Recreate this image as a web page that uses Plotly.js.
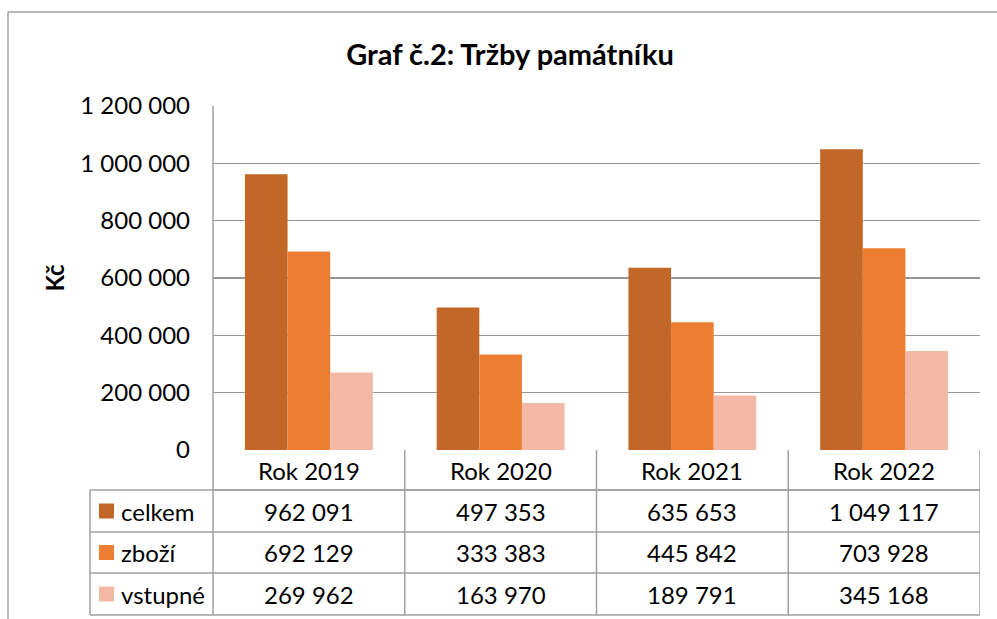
<!DOCTYPE html>
<html>
<head>
<meta charset="utf-8">
<script src="https://cdn.plot.ly/plotly-3.0.1.min.js"></script>
<style>html,body{margin:0;padding:0;background:#fff;}#chart{width:997px;height:619px;}</style>
</head>
<body>
<div id="chart"></div>
<script>
// ---- data ----
const categories = ["Rok 2019", "Rok 2020", "Rok 2021", "Rok 2022"];
const seriesNames = ["celkem", "zboží", "vstupné"];
const celkem  = [962091, 497353, 635653, 1049117];
const zbozi   = [692129, 333383, 445842, 703928];
const vstupne = [269962, 163970, 189791, 345168];
const yTicks  = [0, 200000, 400000, 600000, 800000, 1000000, 1200000];

const seriesValues = [celkem, zbozi, vstupne];
const colors = ["#C36728", "#ED7D31", "#F4B9A5"];

// ---- geometry (pixels) ----
const W = 997, H = 619;
const L = 213, R = 980, T = 106, B = 450;
const pw = R - L, ph = B - T;
const px = x => (x - L) / pw;
const py = y => (B - y) / ph;

const FONT = "Lato, 'Open Sans', sans-serif";
const gridColor = "#979797";
const lineColor = "#a0a0a0";
const TXT = 24;

function fmt(v) {
  return String(v).replace(/\B(?=(\d{3})+(?!\d))/g, " ");
}

const traces = seriesNames.map((name, i) => ({
  type: "bar",
  name: name,
  x: categories,
  y: seriesValues[i],
  marker: {color: colors[i], line: {width: 0}},
  hoverinfo: "x+y+name"
}));

// table rows (pixel bounds)
const headerTop = 450, headerBot = 490;
const rowBounds = [490, 532, 573, 615];
const tableLeft = 90;

const shapes = [];
const annotations = [];

// outer chart border
shapes.push({type: "line", xref: "paper", yref: "paper", x0: px(8), x1: px(8), y0: py(12), y1: py(H + 5), line: {color: lineColor, width: 1.5}});
shapes.push({type: "line", xref: "paper", yref: "paper", x0: px(8), x1: px(W + 5), y0: py(12), y1: py(12), line: {color: lineColor, width: 1.5}});

// horizontal table lines
shapes.push({type: "line", xref: "paper", yref: "paper", x0: px(L), x1: 1, y0: py(headerBot), y1: py(headerBot), line: {color: lineColor, width: 1.5}});
rowBounds.forEach((y) => {
  shapes.push({type: "line", xref: "paper", yref: "paper", x0: px(tableLeft), x1: 1, y0: py(y), y1: py(y), line: {color: lineColor, width: 1.5}});
});
// left column vertical + y axis line
shapes.push({type: "line", xref: "paper", yref: "paper", x0: px(tableLeft), x1: px(tableLeft), y0: py(rowBounds[0]), y1: py(rowBounds[3]), line: {color: lineColor, width: 1.5}});
shapes.push({type: "line", xref: "paper", yref: "paper", x0: 0, x1: 0, y0: 1, y1: py(rowBounds[3]), line: {color: lineColor, width: 1.5}});
// category dividers
for (let k = 0; k < categories.length; k++) {
  shapes.push({type: "line", xref: "x", yref: "paper", x0: k + 0.5, x1: k + 0.5, y0: 0, y1: py(rowBounds[3]), line: {color: lineColor, width: 1.5}});
}

// header labels
categories.forEach((c, k) => {
  annotations.push({xref: "x", yref: "paper", x: k, y: py((headerTop + headerBot) / 2), text: c, showarrow: false,
    xanchor: "center", yanchor: "middle", font: {family: FONT, size: TXT, color: "#000"}});
});

// rows
seriesNames.forEach((name, i) => {
  const yc = (rowBounds[i] + rowBounds[i + 1]) / 2;
  shapes.push({type: "rect", xref: "paper", yref: "paper", x0: px(99), x1: px(114), y0: py(yc - 7.5), y1: py(yc + 7.5),
    fillcolor: colors[i], line: {width: 0}});
  annotations.push({xref: "paper", yref: "paper", x: px(119), y: py(yc), text: name, showarrow: false,
    xanchor: "left", yanchor: "middle", font: {family: FONT, size: TXT, color: "#000"}});
  seriesValues[i].forEach((v, k) => {
    annotations.push({xref: "x", yref: "paper", x: k, y: py(yc), text: fmt(v), showarrow: false,
      xanchor: "center", yanchor: "middle", font: {family: FONT, size: TXT, color: "#000"}});
  });
});

const layout = {
  width: W, height: H,
  margin: {l: L, r: W - R, t: T, b: H - B, pad: 0},
  paper_bgcolor: "#fff", plot_bgcolor: "#fff",
  separators: ", ",
  showlegend: false,
  barmode: "group",
  bargap: 0.333,
  bargroupgap: 0,
  title: {text: "<b>Graf č.2: Tržby památníku</b>", x: 510 / W, xref: "container", xanchor: "center", y: 1 - 55 / H, yref: "container", yanchor: "middle",
    font: {family: FONT, size: 29, color: "#000"}},
  xaxis: {type: "category", showticklabels: false, showline: false, showgrid: false, zeroline: false, ticks: "",
    range: [-0.5, categories.length - 0.5], fixedrange: true},
  yaxis: {range: [0, 1200000], tickvals: yTicks, tickformat: ",d", showgrid: true, gridcolor: gridColor, gridwidth: 1.5,
    zeroline: false, showline: false, ticks: "", ticklabelstandoff: 22,
    tickfont: {family: FONT, size: TXT, color: "#000"},
    title: {text: "<b>Kč</b>", standoff: 8, font: {family: FONT, size: TXT, color: "#000"}},
    automargin: false, fixedrange: true},
  shapes: shapes,
  annotations: annotations
};

Plotly.newPlot("chart", traces, layout, {displayModeBar: false, staticPlot: true});
</script>
</body>
</html>
